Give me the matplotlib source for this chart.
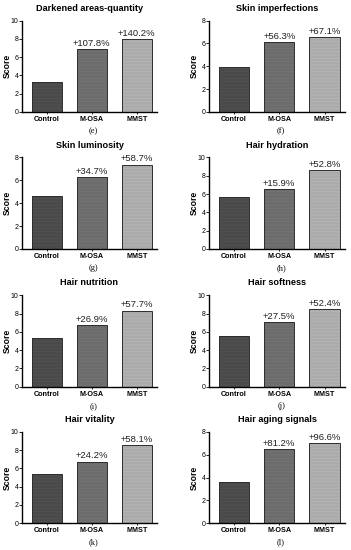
import matplotlib
matplotlib.use("Agg")
import matplotlib.pyplot as plt

plt.rcParams['font.family'] = ['Liberation Sans', 'DejaVu Sans']
plt.rcParams['hatch.linewidth'] = 0.3

groups = ["Control", "M-OSA", "MMST"]
titles = ["Darkened areas-quantity", "Skin imperfections", "Skin luminosity", "Hair hydration",
          "Hair nutrition", "Hair softness", "Hair vitality", "Hair aging signals"]
letters = ["(e)", "(f)", "(g)", "(h)", "(i)", "(j)", "(k)", "(l)"]
values_e = [3.3, 6.86, 7.93]
values_f = [3.9, 6.11, 6.52]
values_g = [4.65, 6.26, 7.38]
values_h = [5.65, 6.55, 8.63]
values_i = [5.27, 6.69, 8.31]
values_j = [5.55, 7.08, 8.46]
values_k = [5.42, 6.73, 8.57]
values_l = [3.57, 6.47, 7.02]
all_values = [values_e, values_f, values_g, values_h, values_i, values_j, values_k, values_l]
pct_labels = [["+107.8%", "+140.2%"], ["+56.3%", "+67.1%"], ["+34.7%", "+58.7%"], ["+15.9%", "+52.8%"],
              ["+26.9%", "+57.7%"], ["+27.5%", "+52.4%"], ["+24.2%", "+58.1%"], ["+81.2%", "+96.6%"]]
ymaxes = [10, 8, 8, 10, 10, 10, 10, 8]

colors = ["#4a4a4a", "#6c6c6c", "#ababab"]
stripe = ["#5a5a5a", "#7c7c7c", "#c0c0c0"]

W, H = 351, 550
fig = plt.figure(figsize=(W / 100, H / 100), dpi=100)

col_left = [22, 209]
col_right = [157, 345]
row_zero = [112, 249, 386.7, 523.3]
ax_h = 91.5

x = list(range(len(groups)))
for k in range(8):
    r, c = divmod(k, 2)
    l = col_left[c]
    w = col_right[c] - l
    b = row_zero[r]
    ax = fig.add_axes([l / W, 1 - b / H, w / W, ax_h / H])
    vals = all_values[k]
    ax.bar(x, vals, width=0.67, color=colors, edgecolor=stripe, hatch='-----', linewidth=0)
    ax.bar(x, vals, width=0.67, color='none', edgecolor='#2e2e2e', linewidth=0.7)
    ax.set_xlim(-0.55, 2.45)
    ax.set_ylim(0, ymaxes[k])
    ax.set_yticks(range(0, ymaxes[k] + 1, 2))
    ax.set_xticks(x)
    ax.set_xticklabels(groups, fontsize=5.2, fontweight='bold')
    ax.tick_params(axis='y', labelsize=5, length=2, width=0.6, pad=0.5)
    ax.tick_params(axis='x', length=1.5, width=0.6, pad=1.5)
    ax.spines['top'].set_visible(False)
    ax.spines['right'].set_visible(False)
    ax.spines['left'].set_linewidth(1.0)
    ax.spines['bottom'].set_linewidth(1.0)
    ax.set_ylabel("Score", fontsize=6.2, fontweight='bold')
    ax.yaxis.set_label_coords(-10.0 / w, 0.5)
    ax.set_title(titles[k], fontsize=6.6, fontweight='bold', pad=7)
    for i in (1, 2):
        ax.text(x[i], vals[i] + ymaxes[k] * 0.015, pct_labels[k][i - 1], ha='center', va='bottom',
                fontsize=6.8, color='#222222')
    ax.text(0.53, -0.21, letters[k], transform=ax.transAxes, ha='center', va='center',
            fontsize=6, family=['Liberation Serif', 'DejaVu Serif'])

fig.savefig("out.png", dpi=100)
